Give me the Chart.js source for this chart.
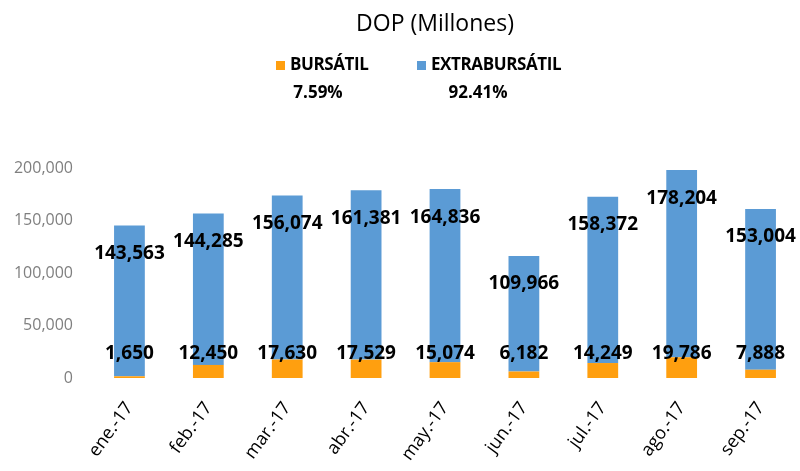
<!DOCTYPE html>
<html>
<head>
<meta charset="utf-8">
<script src="https://cdn.jsdelivr.net/npm/chart.js@4.4.0/dist/chart.umd.min.js"></script>
<style>
  html,body{margin:0;padding:0;background:#fff;overflow:hidden}
  canvas{display:block}
</style>
</head>
<body>
<canvas id="grafico" width="800" height="471"></canvas>
<script>
// ============================================================
// MONTOS TRANSADOS POR MERCADO — DOP (Millones), 2017
// ============================================================

const meses = ['ene.-17','feb.-17','mar.-17','abr.-17','may.-17','jun.-17','jul.-17','ago.-17','sep.-17'];
const bursatil = [1650,12450,17630,17529,15074,6182,14249,19786,7888];
const extrabursatil = [143563,144285,156074,161381,164836,109966,158372,178204,153004];
const participacion = ['7.59%','92.41%'];
const ticksY = [0,50000,100000,150000,200000];

const colores = { bursatil:'#FF9F0F', extra:'#5B9BD5' };
const fmt = v => v.toLocaleString('en-US');

// etiquetas de valor sobre cada segmento
const etiquetas = {
  id:'etiquetas',
  afterDatasetsDraw(chart) {
    const ctx=chart.ctx;
    ctx.save();
    ctx.font='bold 19px "Open Sans"';
    ctx.fillStyle='#000';
    ctx.textAlign='center'; ctx.textBaseline='middle';
    chart.data.datasets.forEach((ds,i)=>{
      chart.getDatasetMeta(i).data.forEach((bar,j)=>{
        const y = i===0 ? bar.base-24 : bar.y+28;
        ctx.fillText(fmt(ds.data[j]), bar.x, y);
      });
    });
    ctx.restore();
  }
};

// título, leyenda y participación
const encabezado = {
  id:'encabezado',
  afterDraw(chart) {
    const ctx=chart.ctx;
    ctx.save();
    ctx.fillStyle='#000';
    ctx.textBaseline='middle';
    ctx.textAlign='center';
    ctx.font='23px "Open Sans"';
    ctx.fillText('DOP (Millones)', 435, 24);

    const cuadros=[276,417], centros=[318,478];
    chart.data.datasets.forEach((ds,i)=>{
      ctx.fillStyle=ds.backgroundColor;
      ctx.fillRect(cuadros[i], 61, 9, 9);
      ctx.fillStyle='#000';
      ctx.textAlign='left';
      ctx.font='bold 17px "Open Sans"';
      ctx.letterSpacing='-0.4px';
      ctx.fillText(ds.label, cuadros[i]+14, 65);
      ctx.letterSpacing='0px';
      ctx.textAlign='center';
      ctx.font='bold 17px "Open Sans"';
      ctx.fillText(participacion[i], centros[i], 93);
    });
    ctx.restore();
  }
};

new Chart(document.getElementById('grafico'), {
  type:'bar',
  data:{ labels:meses, datasets:[
    { label:'BURSÁTIL', data:bursatil, backgroundColor:colores.bursatil, categoryPercentage:1, barPercentage:0.39 },
    { label:'EXTRABURSÁTIL', data:extrabursatil, backgroundColor:colores.extra, categoryPercentage:1, barPercentage:0.39 }
  ]},
  options:{
    responsive:false, animation:false, devicePixelRatio:1,
    layout:{ padding:{ top:168, left:0, right:0, bottom:0 } },
    plugins:{ legend:{display:false}, title:{display:false}, tooltip:{enabled:false} },
    scales:{
      x:{ stacked:true, grid:{display:false, drawTicks:false}, border:{display:false},
          ticks:{ color:'#000', font:{family:'Open Sans', size:18}, minRotation:54, maxRotation:54, padding:20 },
          afterFit:s=>{ s.height=93; } },
      y:{ stacked:true, min:0, max:200000, grid:{display:false, drawTicks:false}, border:{display:false},
          afterBuildTicks:s=>{ s.ticks=ticksY.map(v=>({value:v})); },
          ticks:{ color:'#7f7f7f', font:{family:'Open Sans', size:16}, padding:17, callback:v=>fmt(v) },
          afterFit:s=>{ s.width=90; } }
    }
  },
  plugins:[etiquetas, encabezado]
});
</script>
</body>
</html>
